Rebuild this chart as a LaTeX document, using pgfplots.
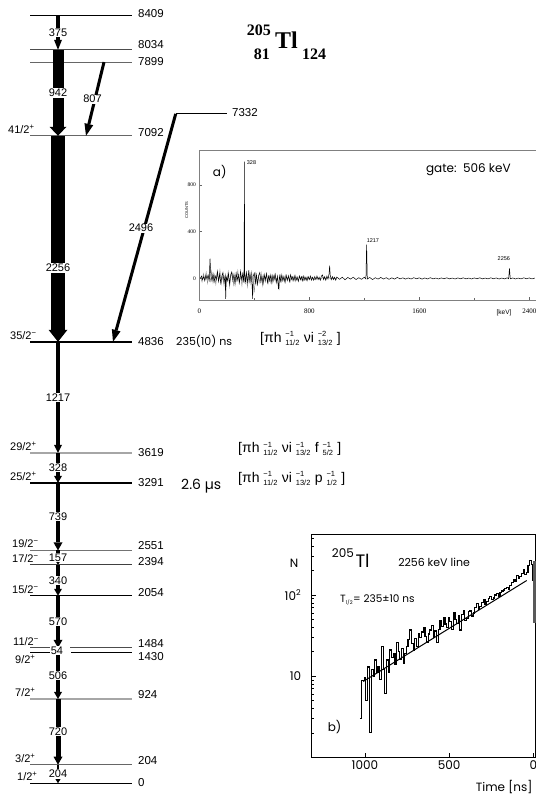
\documentclass[border=0pt]{standalone}
\usepackage{fontspec}
\usepackage{amsmath}
\usepackage{pgfplots}
\pgfplotsset{compat=1.18}
\usetikzlibrary{arrows.meta}
\setmainfont{Liberation Sans}
\newfontfamily\geo{Poppins}
\newfontfamily\tms{Liberation Serif}
\newcommand{\fs}[1]{\fontsize{#1}{#1}\selectfont}
% stacked super/subscript for the configurations
\newcommand{\sx}[2]{\;\ensuremath{^{\text{\fs{7.5}#1}}_{\text{\fs{7.5}#2}}}\;}

\tikzset{
  lv/.style 2 args={line width=#1, draw=#2},
  tr/.style n args={3}{line width=#1, draw=black,
    -{Triangle[width=#2,length=#3,line width=0pt]}},
  tl/.style={fill=white, inner sep=0.7pt, font=\fs{11}},
  el/.style={anchor=west, inner sep=0pt, font=\fs{11.5}},
  sp/.style={anchor=base west, inner sep=0pt, font=\fs{11}, yshift=2.5pt},
  cf/.style={anchor=west, inner sep=0pt, font=\fs{14}},
}

\begin{document}
\begin{tikzpicture}

% ---------------- level scheme ----------------
\begin{axis}[at={(0pt,0pt)}, anchor=south west, scale only axis,
  width=536pt, height=796pt,
  xmin=0, xmax=536, ymin=-139.1, ymax=8579.4,
  hide axis, clip=false]
% levels
\addplot[lv={0.9pt}{black}]    coordinates {(30,8409)(132,8409)};
\addplot[lv={0.7pt}{black!70}] coordinates {(30,8034)(132,8034)};
\addplot[lv={0.7pt}{black!60}] coordinates {(30,7899)(132,7899)};
\addplot[lv={0.7pt}{black!60}] coordinates {(30,7092)(132,7092)};
\addplot[lv={0.9pt}{black}]    coordinates {(175.7,7332)(226.7,7332)};
\addplot[lv={2pt}{black}]      coordinates {(30,4836)(132,4836)};
\addplot[lv={1.5pt}{black!35}] coordinates {(30,3619)(132,3619)};
\addplot[lv={2pt}{black}]      coordinates {(30,3291)(132,3291)};
\addplot[lv={0.7pt}{black!55}] coordinates {(30,2551)(132,2551)};
\addplot[lv={0.8pt}{black!75}] coordinates {(30,2394)(132,2394)};
\addplot[lv={1.1pt}{black}]    coordinates {(30,2054)(132,2054)};
\addplot[lv={0.7pt}{black!70}] coordinates {(30,1484)(50,1484)};
\addplot[lv={0.7pt}{black!70}] coordinates {(70,1484)(132,1484)};
\addplot[lv={0.8pt}{black}]    coordinates {(30,1430)(53,1430)};
\addplot[lv={0.8pt}{black}]    coordinates {(71,1430)(132,1430)};
\addplot[lv={1.2pt}{black!35}] coordinates {(30,924)(132,924)};
\addplot[lv={0.7pt}{black!60}] coordinates {(30,204)(132,204)};
\addplot[lv={1pt}{black}]      coordinates {(30,0)(132,0)};
% transitions
\addplot[tr={3.2pt}{8pt}{10pt}]  coordinates {(58,8409)(58,8034)};
\addplot[tr={11pt}{17pt}{9pt}]   coordinates {(58,8034)(58,7092)};
\addplot[tr={3pt}{9pt}{12pt}]    coordinates {(104,7899)(86,7092)};
\addplot[tr={13.5pt}{19pt}{12pt}] coordinates {(58,7092)(58,4836)};
\addplot[tr={3pt}{9pt}{12pt}]    coordinates {(175.7,7332)(113,4836)};
\addplot[tr={3.8pt}{8pt}{8pt}]   coordinates {(58,4836)(58,3619)};
\addplot[tr={3.5pt}{8pt}{7pt}]   coordinates {(58,3619)(58,3291)};
\addplot[tr={4.5pt}{9pt}{8pt}]   coordinates {(58,3291)(58,2551)};
\addplot[tr={4pt}{8pt}{6pt}]     coordinates {(58,2551)(58,2394)};
\addplot[tr={4pt}{8pt}{7pt}]     coordinates {(58,2394)(58,2054)};
\addplot[tr={4.8pt}{9pt}{8pt}]   coordinates {(58,2054)(58,1484)};
\addplot[tr={4pt}{7pt}{4pt}]     coordinates {(58,1484)(58,1430)};
\addplot[tr={4pt}{8pt}{7pt}]     coordinates {(58,1430)(58,924)};
\addplot[tr={5pt}{9pt}{8pt}]     coordinates {(58,924)(58,204)};
\addplot[tr={2.5pt}{6pt}{5pt}]   coordinates {(58,204)(58,0)};
% transition labels
\node[tl] at (axis cs:58,8221) {375};
\node[tl] at (axis cs:58,7561) {942};
\node[tl] at (axis cs:92.5,7494) {807};
\node[tl] at (axis cs:58,5643) {2256};
\node[tl] at (axis cs:141,6080) {2496};
\node[tl] at (axis cs:58,4227) {1217};
\node[tl] at (axis cs:58,3457) {328};
\node[tl] at (axis cs:58,2921) {739};
\node[tl] at (axis cs:58,2472) {157};
\node[tl] at (axis cs:58,2224) {340};
\node[tl] at (axis cs:58,1769) {570};
\node[tl] at (axis cs:57,1457) {54};
\node[tl] at (axis cs:58,1177) {506};
\node[tl] at (axis cs:58,564) {720};
\node[tl] at (axis cs:58,102) {204};
% level energies
\node[el,yshift=2pt] at (axis cs:138,8409) {8409};
\node[el,yshift=5pt] at (axis cs:138,8034) {8034};
\node[el,yshift=1pt] at (axis cs:138,7899) {7899};
\node[el,yshift=3pt] at (axis cs:138,7092) {7092};
\node[el,yshift=1pt] at (axis cs:232,7332) {7332};
\node[el] at (axis cs:138,4836) {4836};
\node[el] at (axis cs:138,3619) {3619};
\node[el] at (axis cs:138,3291) {3291};
\node[el,yshift=5pt] at (axis cs:138,2551) {2551};
\node[el,yshift=3pt] at (axis cs:138,2394) {2394};
\node[el,yshift=3pt] at (axis cs:138,2054) {2054};
\node[el,yshift=4pt] at (axis cs:138,1484) {1484};
\node[el,yshift=-4pt] at (axis cs:138,1430) {1430};
\node[el,yshift=4pt] at (axis cs:138,924) {924};
\node[el,yshift=4pt] at (axis cs:138,204) {204};
\node[el,yshift=1pt] at (axis cs:138,0) {0};
% spins
\node[sp] at (axis cs:8,7092) {41/2\textsuperscript{+}};
\node[sp] at (axis cs:10,4836) {35/2\textsuperscript{−}};
\node[sp] at (axis cs:10,3619) {29/2\textsuperscript{+}};
\node[sp] at (axis cs:10,3291) {25/2\textsuperscript{+}};
\node[sp] at (axis cs:12,2551) {19/2\textsuperscript{−}};
\node[sp] at (axis cs:12,2394) {17/2\textsuperscript{−}};
\node[sp] at (axis cs:12,2054) {15/2\textsuperscript{−}};
\node[sp] at (axis cs:13,1484) {11/2\textsuperscript{−}};
\node[anchor=north west, inner sep=0pt, font=\fs{11}, yshift=-2pt] at (axis cs:15,1430) {9/2\textsuperscript{+}};
\node[sp] at (axis cs:15,924) {7/2\textsuperscript{+}};
\node[sp] at (axis cs:15,204) {3/2\textsuperscript{+}};
\node[sp] at (axis cs:17,0) {1/2\textsuperscript{+}};
% lifetimes and configurations
\node[anchor=west, inner sep=0pt, font=\geo\fs{11}] at (axis cs:176,4836) {235(10) ns};
\node[anchor=west, inner sep=0pt, font=\geo\fs{14}, yshift=-3pt] at (axis cs:181,3291) {2.6 µs};
\node[cf, yshift=3pt] at (axis cs:260,4836) {[πh\sx{−1}{11/2}νi\sx{−2}{13/2}]};
\node[cf, yshift=4pt] at (axis cs:238,3619) {[πh\sx{−1}{11/2}νi\sx{−1}{13/2}f\sx{−1}{5/2}]};
\node[cf, yshift=4pt] at (axis cs:238,3291) {[πh\sx{−1}{11/2}νi\sx{−1}{13/2}p\sx{−1}{1/2}]};
% title
\node[anchor=base east, inner sep=0pt, font=\tms\bfseries\fs{16}] at (axis cs:271,8195) {205};
\node[anchor=base east, inner sep=0pt, font=\tms\bfseries\fs{16}] at (axis cs:270,7930) {81};
\node[anchor=base west, inner sep=0pt, font=\tms\bfseries\fs{24}] at (axis cs:275,8050) {Tl};
\node[anchor=base west, inner sep=0pt, font=\tms\bfseries\fs{16}] at (axis cs:302,7930) {124};
\end{axis}

% ---------------- a) gated spectrum ----------------
\begin{axis}[at={(0pt,0pt)}, anchor=south west, xshift=199.3pt, yshift=496pt,
  scale only axis, width=336.7pt, height=150pt,
  xmin=0, xmax=2449, ymin=-185, ymax=1100,
  axis background/.style={fill=white},
  axis line style={black!50, line width=0.7pt},
  tick align=inside, xtick pos=bottom, ytick pos=left,
  xtick={0,800,1600,2400}, minor xtick={400,1200,2000},
  ytick={0,400,800},
  major tick length=3pt, minor tick length=2pt,
  tick style={black!60, line width=0.5pt},
  xticklabel style={font=\tms\fs{7}, yshift=-5pt},
  yticklabel style={font=\tms\fs{5.5}},
  /pgf/number format/1000 sep={},
  /pgf/number format/assume math mode=true,
  clip=false]
\addplot[black!45, line width=0.5pt] coordinates {
(10,10)(20,-30)(30,40)(40,-10)(50,50)(60,-40)(70,20)(80,-25)(90,60)(100,-35)
(110,30)(120,-50)(130,45)(140,-20)(150,70)(160,-45)(170,25)(180,-60)(190,35)(200,-30)
(210,55)(220,-70)(230,20)(240,40)(250,-55)(260,30)(270,-20)(280,65)(290,-40)(300,25)
(310,-60)(320,50)(330,-30)(340,40)(350,-70)(360,30)(370,-45)(380,55)(390,-20)(400,-120)
(410,40)(420,-50)(430,20)(440,-35)(450,45)(460,-60)(470,25)(480,-30)(490,40)(500,-45)
(510,20)(520,-35)(530,30)(540,-25)(550,35)(560,-40)(570,20)(580,-100)(590,25)(600,-30)
(610,20)(620,-25)(630,30)(640,-20)(650,25)(660,-30)(670,15)(680,-20)(690,20)(700,-25)
(710,15)(720,-20)(730,20)(740,-15)(750,15)(760,-20)(770,10)(780,-15)(790,15)(800,-10)
(820,10)(840,-10)(860,8)(880,-10)(900,10)(920,-8)(940,10)(960,-8)(980,6)(1000,-6)};
\addplot[black, line width=0.5pt] coordinates {
(8,0)(16,20)(24,-10)(32,15)(40,-20)(48,25)(56,-5)(64,30)(72,-15)(78,170)
(84,30)(92,-20)(100,40)(108,-30)(116,20)(124,-10)(132,60)(140,-25)(148,35)(156,-40)
(164,20)(172,50)(180,-30)(188,25)(192,-175)(196,10)(204,-20)(212,40)(220,-45)(228,30)
(236,55)(244,-20)(252,35)(260,-50)(268,45)(276,-15)(284,30)(292,-35)(300,60)(308,-10)
(316,40)(322,-20)(326,30)(328,1000)(330,40)(336,-30)(344,50)(352,-40)(360,70)(368,-25)
(376,40)(384,-60)(388,-175)(392,20)(400,45)(408,-40)(416,30)(424,-50)(432,25)(440,50)
(448,-30)(456,20)(464,-45)(472,35)(480,-15)(488,40)(496,-35)(504,20)(512,-20)(520,30)
(528,-40)(536,25)(544,-10)(552,35)(560,-30)(568,15)(576,-90)(584,20)(592,-25)(600,30)
(608,-20)(616,15)(624,-35)(632,25)(640,-15)(648,20)(656,-25)(664,30)(672,-10)(680,15)
(688,-20)(696,25)(704,-15)(712,10)(720,-25)(728,20)(736,-10)(744,15)(752,-20)(760,20)
(768,-15)(776,10)(784,-20)(792,15)(800,-10)(808,20)(816,-15)(824,10)(832,-15)(840,15)
(848,-10)(856,20)(864,-10)(872,10)(880,-15)(888,20)(896,30)(904,-10)(912,15)(920,-15)
(928,20)(936,-5)(944,40)(948,110)(952,30)(960,-10)(968,15)(976,-10)(984,10)(992,-15)
(1000,12)(1020,-8)(1040,10)(1060,-12)(1080,8)(1100,-6)(1120,10)(1140,-10)(1160,6)(1180,-8)
(1200,10)(1212,-5)(1217,290)(1222,-5)(1240,8)(1260,-10)(1280,6)(1300,-6)(1320,8)(1340,-5)
(1360,6)(1380,-8)(1400,5)(1420,-6)(1440,8)(1460,-4)(1480,5)(1500,-6)(1520,4)(1540,-5)
(1560,6)(1580,-3)(1600,5)(1620,-6)(1640,4)(1660,-5)(1680,6)(1700,-4)(1720,3)(1740,-5)
(1760,4)(1780,-3)(1800,5)(1820,-4)(1840,3)(1860,-5)(1880,4)(1900,-3)(1920,5)(1940,-4)
(1960,3)(1980,-5)(2000,4)(2020,-3)(2040,5)(2060,-4)(2080,3)(2100,-4)(2120,5)(2140,-3)
(2160,4)(2180,-5)(2200,3)(2220,-4)(2240,5)(2250,-3)(2256,85)(2262,-3)(2280,4)(2300,-5)
(2320,3)(2340,-4)(2360,5)(2380,-3)(2400,4)(2420,-4)(2440,3)};
\node[anchor=west, inner sep=0pt, font=\fs{5.5}] at (axis cs:345,990) {328};
\node[anchor=south west, inner sep=0pt, font=\fs{5.5}] at (axis cs:1217,310) {1217};
\node[inner sep=0pt, font=\fs{5.5}] at (axis cs:2215,168) {2256};
\node[anchor=west, inner sep=0pt, font=\geo\fs{12}] at (axis description cs:0.04,0.853) {a)};
\node[anchor=west, inner sep=0pt, font=\geo\fs{12}] at (axis description cs:0.673,0.867) {gate:\ \ 506 keV};
\node[inner sep=0pt, font=\fs{6.5}] at (axis description cs:0.905,-0.087) {[keV]};
\node[rotate=90, inner sep=0pt, font=\fs{4}] at (axis description cs:-0.037,0.6) {COUNTS};
\end{axis}

% ---------------- b) decay curve ----------------
\begin{axis}[at={(0pt,0pt)}, anchor=south west, xshift=311.7pt, yshift=38.7pt,
  scale only axis, width=224.3pt, height=223pt,
  x dir=reverse, xmin=-15, xmax=1316,
  ymode=log, ymin=1, ymax=560,
  axis background/.style={fill=white},
  axis line style={line width=1pt},
  tick align=inside, xtick pos=bottom, ytick pos=left,
  xtick={0,500,1000}, ytick={10,100}, yticklabels={10,10\textsuperscript{2}},
  minor ytick={2,3,4,5,6,7,8,9,20,30,40,50,60,70,80,90,200,300,400,500},
  major tick length=4pt, minor tick length=2.5pt,
  tick style={black, line width=0.7pt},
  ticklabel style={font=\geo\fs{12}},
  yticklabel style={xshift=-7pt},
  /pgf/number format/1000 sep={},
  /pgf/number format/assume math mode=true,
  clip=false]
\addplot[const plot, black, line width=1.2pt] coordinates {
(1030,3.0)(1020,8.9)(1005,9.5)(995,5.0)(985,13)(975,2.0)(960,12)(950,10)(942,15.8)(932,11)
(922,13)(912,9)(902,23)(890,12)(882,6.1)(872,15.8)(862,11)(852,21)(842,17)(832,19)
(822,14)(813,26)(803,20)(793,16)(783,22)(773,14.5)(763,19)(753,23)(744,28)(734,37)
(724,25)(714,21)(704,29)(694,23)(684,33)(674,30)(664,35)(654,40)(644,31)(634,26)
(625,33)(615,37)(605,42)(595,30)(585,36)(575,26)(565,38)(555,49)(545,41)(535,53)
(525,44)(516,40)(506,52)(496,47)(486,38)(476,60)(466,50)(456,45)(446,55)(437,37)
(427,58)(417,65)(407,48)(397,51)(387,62)(377,65)(368,55)(358,60)(348,70)(338,78)
(328,66)(318,72)(308,80)(298,87)(288,77)(279,83)(269,90)(259,96)(249,88)(239,92)
(229,100)(219,104)(209,97)(199,108)(190,112)(180,115)(170,120)(160,125)(150,118)(140,130)
(130,142)(120,153)(110,146)(100,175)(90,160)(81,168)(71,185)(61,204)(52,178)(42,190)
(32,230)(22,265)(12,240)(6,153)(0,153)};
\addplot[black, line width=1pt] coordinates {(1010,8.6)(40,151)};
\addplot[black!65, line width=3pt] coordinates {(-5,260)(-5,45)};
\node[anchor=west, inner sep=0pt] at (axis description cs:0.089,0.894)
  {\raisebox{10pt}{\geo\fs{12}205}\,{\geo\fs{18}Tl}};
\node[anchor=west, inner sep=0pt, font=\geo\fs{11}] at (axis description cs:0.385,0.876) {2256 keV line};
\node[anchor=west, inner sep=0pt, font=\geo\fs{10.5}] at (axis description cs:0.126,0.705)
  {T\textsubscript{\fs{5}1/2}= 235±10 ns};
\node[anchor=west, inner sep=0pt, font=\geo\fs{12}] at (axis description cs:0.071,0.137) {b)};
\node[anchor=east, inner sep=0pt, font=\geo\fs{12}] at (axis description cs:0.985,-0.133) {Time [ns]};
\node[inner sep=0pt, font=\geo\fs{12}] at (axis description cs:-0.079,0.871) {N};
\end{axis}

\pgfresetboundingbox
\useasboundingbox (0pt,0pt) rectangle (536pt,796pt);
\end{tikzpicture}
\end{document}
